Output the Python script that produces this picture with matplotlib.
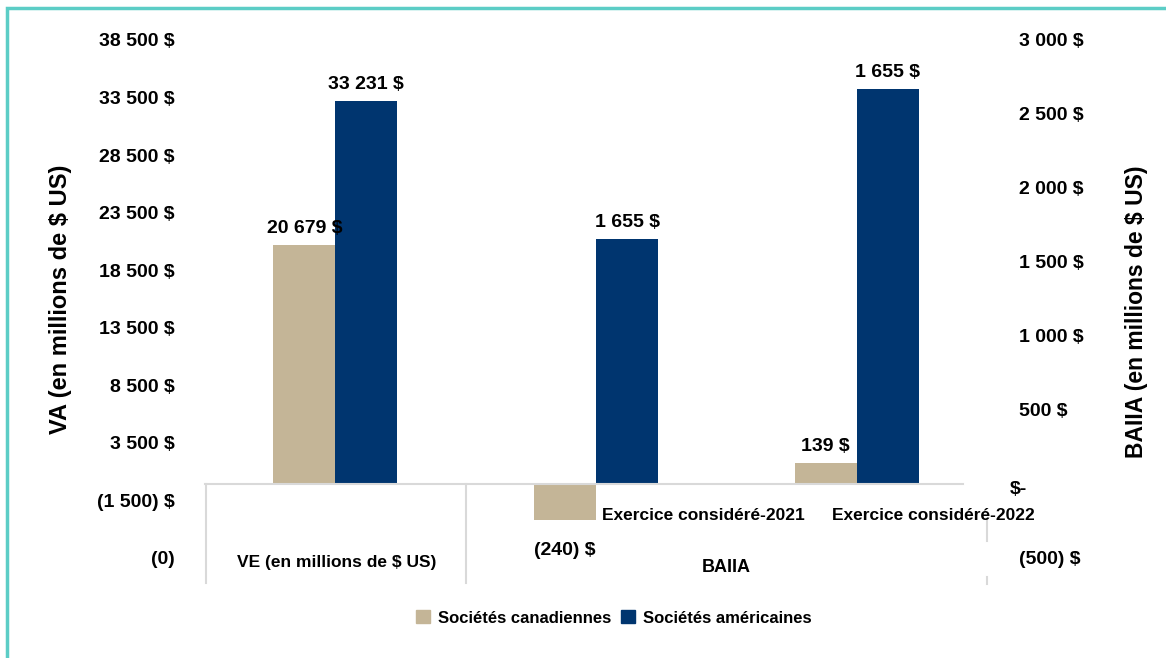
import matplotlib
matplotlib.use("Agg")
import matplotlib.pyplot as plt
from matplotlib.patches import Rectangle
from matplotlib.lines import Line2D
from matplotlib.transforms import ScaledTranslation

plt.rcParams['font.family'] = ['Liberation Sans', 'DejaVu Sans']
plt.rcParams['font.weight'] = 'bold'

# data
series = ["Sociétés canadiennes", "Sociétés américaines"]
colors = ["#c4b597", "#00356f"]

ve_values = [20679, 33231]
ve_labels = ["20 679 $", "33 231 $"]

baiia_years = ["Exercice considéré-2021", "Exercice considéré-2022"]
baiia_can = [-240, 139]
baiia_us = [1655, 2670]
baiia_can_labels = ["(240) $", "139 $"]
baiia_us_labels = ["1 655 $", "1 655 $"]

left_ticks = [-6500, -1500, 3500, 8500, 13500, 18500, 23500, 28500, 33500, 38500]
left_ticklabels = ["(0)", "(1 500) $", "3 500 $", "8 500 $", "13 500 $", "18 500 $",
                   "23 500 $", "28 500 $", "33 500 $", "38 500 $"]
right_ticks = [-500, 0, 500, 1000, 1500, 2000, 2500, 3000]
right_ticklabels = ["(500) $", "$-", "500 $", "1 000 $", "1 500 $", "2 000 $", "2 500 $", "3 000 $"]

W, H = 1166, 658
fig = plt.figure(figsize=(W / 100, H / 100), dpi=100)

def fx(px):
    return px / W

def fy(py):
    return 1 - py / H

ax = fig.add_axes([fx(205), fy(558), fx(987) - fx(205), fy(40) - fy(558)])
ax2 = ax.twinx()

bw = 0.238
fs = 14
# VE group on left axis
ax.bar(0 - bw / 2, ve_values[0], bw, color=colors[0])
ax.bar(0 + bw / 2, ve_values[1], bw, color=colors[1])
for i, (v, lab) in enumerate(zip(ve_values, ve_labels)):
    ax.text(0 + (i - 0.5) * bw, v + 700, lab, ha='center', va='bottom', fontsize=fs)

# BAIIA group on right axis
xs = [1, 2]
ax2.bar([x - bw / 2 for x in xs], baiia_can, bw, color=colors[0])
ax2.bar([x + bw / 2 for x in xs], baiia_us, bw, color=colors[1])
for x, v, lab in zip(xs, baiia_us, baiia_us_labels):
    ax2.text(x + bw / 2, v + 55, lab, ha='center', va='bottom', fontsize=fs)
ax2.text(xs[1] - bw / 2, baiia_can[1] + 55, baiia_can_labels[1], ha='center', va='bottom', fontsize=fs)
ax2.text(xs[0] - bw / 2, -450, baiia_can_labels[0], ha='center', va='center', fontsize=fs)

ax.set_xlim(-0.5, 2.5)
ax.set_ylim(-6500, 38500)
ax2.set_ylim(-500, 3000)
ax.set_xticks([])
ax.set_yticks(left_ticks)
ax.set_yticklabels(left_ticklabels, fontsize=fs)
ax2.set_yticks(right_ticks)
ax2.set_yticklabels(right_ticklabels, fontsize=fs)
ax.tick_params(axis='y', length=0, pad=22)
ax2.tick_params(axis='y', length=0, pad=23)
for a in (ax, ax2):
    for s in a.spines.values():
        s.set_visible(False)

# "$-" sits a bit further left in the original
lab0 = ax2.get_yticklabels()[1]
lab0.set_transform(lab0.get_transform() + ScaledTranslation(-0.09, -0.04, fig.dpi_scale_trans))

fig.text(fx(61), fy(299), "VA (en millions de $ US)", rotation=90, ha='center', va='center', fontsize=17)
fig.text(fx(1137), fy(312), "BAIIA (en millions de $ US)", rotation=90, ha='center', va='center', fontsize=16.5)

# category axis (multi-level)
grid_c = "#d9d9d9"
fig.add_artist(Line2D([fx(205), fx(963)], [fy(484), fy(484)], color=grid_c, lw=1.5))
fig.add_artist(Line2D([fx(206), fx(206)], [fy(484), fy(583)], color=grid_c, lw=1.5))
fig.add_artist(Line2D([fx(466), fx(466)], [fy(484), fy(583)], color=grid_c, lw=1.5))
fig.add_artist(Line2D([fx(987), fx(987)], [fy(519), fy(541)], color=grid_c, lw=1.5))
fig.add_artist(Line2D([fx(987), fx(987)], [fy(577), fy(584)], color=grid_c, lw=1.5))

fig.text(fx(703), fy(516), baiia_years[0], ha='center', va='center', fontsize=12.5)
fig.text(fx(933), fy(516), baiia_years[1], ha='center', va='center', fontsize=12.5)
fig.text(fx(337), fy(563), "VE (en millions de $ US)", ha='center', va='center', fontsize=12.5)
fig.text(fx(726), fy(567), "BAIIA", ha='center', va='center', fontsize=13)

# legend
handles = [Rectangle((0, 0), 1, 1, color=c) for c in colors]
fig.legend(handles, series, loc='center', bbox_to_anchor=(fx(614), fy(618)), ncol=2,
           frameon=False, fontsize=12, handlelength=0.8, handleheight=0.8,
           handletextpad=0.5, columnspacing=0.6)

# frame
fig.add_artist(Rectangle((fx(7), fy(700)), fx(1200), fy(8) - fy(700), fill=False,
                         edgecolor="#5ccdc6", lw=2.5, transform=fig.transFigure))

fig.savefig("out.png", dpi=100)
